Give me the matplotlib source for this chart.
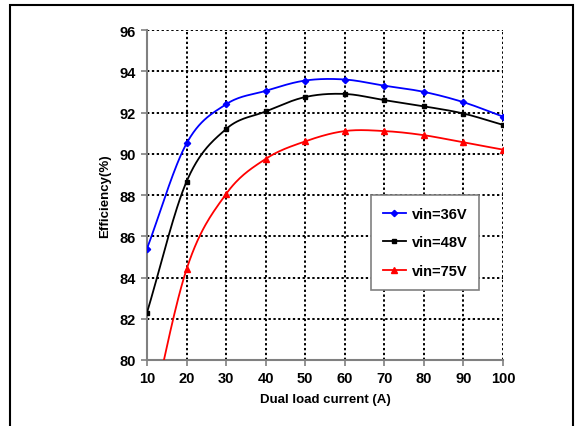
import matplotlib
matplotlib.use('Agg')
import matplotlib.pyplot as plt
import numpy as np
from matplotlib.patches import Rectangle

plt.rcParams['font.family'] = ['Liberation Sans', 'DejaVu Sans']
plt.rcParams['font.weight'] = 'bold'

current = [10, 20, 30, 40, 50, 60, 70, 80, 90, 100]
eff_36 = [85.4, 90.5, 92.4, 93.05, 93.55, 93.6, 93.3, 93.0, 92.5, 91.8]
eff_48 = [82.3, 88.65, 91.2, 92.05, 92.75, 92.9, 92.6, 92.3, 91.95, 91.4]
eff_75 = [76.3, 84.4, 88.05, 89.75, 90.6, 91.1, 91.1, 90.9, 90.55, 90.2]
labels = ['vin=36V', 'vin=48V', 'vin=75V']


def smooth(x, y, n=30):
    # catmull-rom like excel smoothed line
    x = np.asarray(x, float); y = np.asarray(y, float)
    px = np.concatenate([[2*x[0]-x[1]], x, [2*x[-1]-x[-2]]])
    py = np.concatenate([[2*y[0]-y[1]], y, [2*y[-1]-y[-2]]])
    xs, ys = [], []
    t = np.linspace(0, 1, n)
    for i in range(1, len(px)-2):
        for p, out in ((px, xs), (py, ys)):
            p0, p1, p2, p3 = p[i-1], p[i], p[i+1], p[i+2]
            out.extend(0.5*((2*p1) + (-p0+p2)*t + (2*p0-5*p1+4*p2-p3)*t**2
                            + (-p0+3*p1-3*p2+p3)*t**3))
    return np.array(xs), np.array(ys)


fig = plt.figure(figsize=(5.81, 4.27), dpi=100)
ax = fig.add_axes([147/581, 1-361/427, (503-147)/581, (361-31)/427])

for y, c, m, ms, lab in [(eff_36, 'blue', 'D', 3.2, labels[0]),
                         (eff_48, 'black', 's', 3.2, labels[1]),
                         (eff_75, 'red', '^', 4, labels[2])]:
    sx, sy = smooth(current, y)
    ax.plot(sx, sy, color=c, lw=1.3, zorder=3)
    ax.plot(current, y, ls='none', marker=m, ms=ms, color=c, zorder=4, clip_on=True)
    ax.plot([], [], color=c, lw=1.3, marker=m, ms=ms, label=lab)

ax.set_xlim(10, 100)
ax.set_ylim(80, 96)
ax.set_xticks(range(10, 101, 10))
ax.set_yticks(range(80, 97, 2))
ax.grid(True, color='black', ls=(0, (1.2, 1.3)), lw=1.4)
ax.set_axisbelow(True)
for s in ['top', 'right']:
    ax.spines[s].set_visible(False)
for s in ['left', 'bottom']:
    ax.spines[s].set_color('#808080')
    ax.spines[s].set_linewidth(1.5)
ax.tick_params(direction='out', length=4, width=1.2, color='#808080',
               labelsize=10.5, pad=4)
for lbl in ax.get_xticklabels() + ax.get_yticklabels():
    lbl.set_fontweight('bold')
ax.set_xlabel('Dual load current (A)', fontsize=9.5, fontweight='bold', labelpad=6)
ax.set_ylabel('Efficiency(%)', fontsize=9.5, fontweight='bold', labelpad=6)

leg = ax.legend(loc='upper left', bbox_to_anchor=((371-147)/356, 1-(196-31)/330),
                borderaxespad=0, fontsize=10.5, frameon=True, fancybox=False,
                handlelength=1.6, labelspacing=1.0, borderpad=0.8,
                handletextpad=0.4)
leg.get_frame().set_edgecolor('#808080')
leg.get_frame().set_linewidth(1.2)
leg.get_frame().set_alpha(1)
for t in leg.get_texts():
    t.set_fontweight('bold')

fig.patches.append(Rectangle((10/581, -0.1), (573-10)/581, 0.1+(427-6)/427,
                             transform=fig.transFigure, fill=False,
                             edgecolor='black', lw=1.5))

fig.savefig('out.png', dpi=100)
